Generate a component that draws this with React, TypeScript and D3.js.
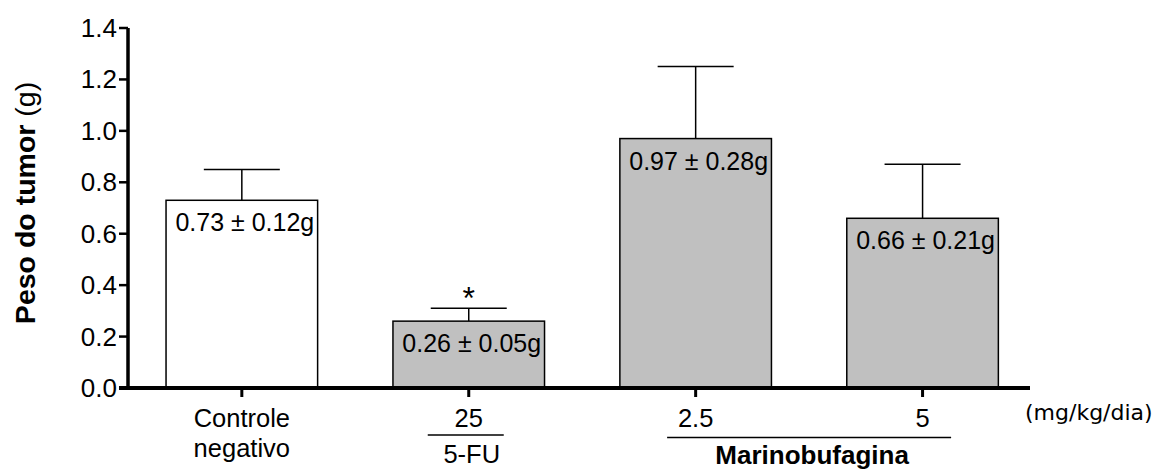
import * as d3 from "d3";

const groups = ["Controle negativo", "5-FU 25", "Marinobufagina 2.5", "Marinobufagina 5"];
const means = [0.73, 0.26, 0.97, 0.66];
const errors = [0.12, 0.05, 0.28, 0.21];
const marks = ["", "*", "", ""];
const tickLines = [["Controle", "negativo"], ["25"], ["2.5"], ["5"]];
const yTicks = [0, 0.2, 0.4, 0.6, 0.8, 1.0, 1.2, 1.4];

const font = "'Liberation Sans', Arial, sans-serif";

export default function App() {
  const width = 1157,
    height = 471;
  const axisX = 128,
    axisEnd = 1030;

  const y = d3.scaleLinear().domain([0, 1.4]).range([388, 28]);
  const x = d3
    .scaleBand()
    .domain(groups)
    .range([128.6, 1035.8])
    .paddingInner(0.332)
    .paddingOuter(0.165);

  const cx = (g) => x(g) + x.bandwidth() / 2;
  const capHalf = 38;

  return (
    <svg
      width={width}
      height={height}
      style={{ position: "absolute", left: 0, top: 0, background: "#fff" }}
      fontFamily={font}
    >
      {/* bars */}
      {groups.map((g, i) => (
        <g key={g}>
          <line
            x1={cx(g)}
            x2={cx(g)}
            y1={y(means[i])}
            y2={y(means[i] + errors[i])}
            stroke="#000"
            strokeWidth={1.5}
          />
          <line
            x1={cx(g) - capHalf}
            x2={cx(g) + capHalf}
            y1={y(means[i] + errors[i])}
            y2={y(means[i] + errors[i])}
            stroke="#000"
            strokeWidth={1.5}
          />
          <rect
            x={x(g)}
            y={y(means[i])}
            width={x.bandwidth()}
            height={y(0) - y(means[i])}
            fill={i === 0 ? "#ffffff" : "#c0c0c0"}
            stroke="#000"
            strokeWidth={1.5}
          />
          <text
            x={cx(g) + 3}
            y={y(means[i]) + 31}
            textAnchor="middle"
            fontSize={25}
          >
            {`${means[i].toFixed(2)} ± ${errors[i].toFixed(2)}g`}
          </text>
          {marks[i] && (
            <text
              x={cx(g)}
              y={y(means[i] + errors[i]) + 1}
              textAnchor="middle"
              fontSize={32}
            >
              {marks[i]}
            </text>
          )}
        </g>
      ))}

      {/* y axis */}
      <line x1={axisX} x2={axisX} y1={y(1.4)} y2={390} stroke="#000" strokeWidth={3.5} />
      {yTicks.map((t) => (
        <g key={t}>
          <line x1={axisX - 9} x2={axisX} y1={y(t)} y2={y(t)} stroke="#000" strokeWidth={2.5} />
          <text x={117} y={y(t) + 9} textAnchor="end" fontSize={26}>
            {t.toFixed(1)}
          </text>
        </g>
      ))}
      <text
        transform={`translate(35,${203}) rotate(-90)`}
        textAnchor="middle"
        fontSize={28.5}
      >
        <tspan fontWeight="bold">Peso do tumor</tspan>
        <tspan> (g)</tspan>
      </text>

      {/* x axis */}
      <line x1={axisX - 9} x2={axisEnd} y1={388} y2={388} stroke="#000" strokeWidth={4} />
      {groups.map((g, i) => (
        <g key={g + "t"}>
          <line x1={cx(g)} x2={cx(g)} y1={388} y2={397} stroke="#000" strokeWidth={3} />
          {tickLines[i].map((s, j) => (
            <text key={s} x={cx(g)} y={427 + j * 30} textAnchor="middle" fontSize={25.5}>
              {s}
            </text>
          ))}
        </g>
      ))}

      {/* group labels */}
      <line x1={cx(groups[1]) - 41} x2={cx(groups[1]) + 35} y1={435} y2={435} stroke="#000" strokeWidth={1.5} />
      <text x={cx(groups[1]) + 3} y={463} textAnchor="middle" fontSize={25.5}>
        5-FU
      </text>
      <line
        x1={(cx(groups[2]) + cx(groups[3])) / 2 - 142}
        x2={(cx(groups[2]) + cx(groups[3])) / 2 + 142}
        y1={437.5}
        y2={437.5}
        stroke="#000"
        strokeWidth={1.5}
      />
      <text
        x={(cx(groups[2]) + cx(groups[3])) / 2 + 3}
        y={464}
        textAnchor="middle"
        fontSize={26}
        fontWeight="bold"
      >
        Marinobufagina
      </text>
      <text x={1025} y={420} fontSize={22} fontFamily="'DejaVu Sans', sans-serif">
        (mg/kg/dia)
      </text>
    </svg>
  );
}
